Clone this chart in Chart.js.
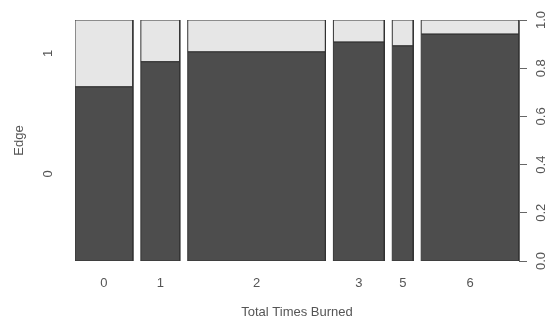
<!DOCTYPE html>
<html>
<head>
<meta charset="utf-8">
<script src="https://cdn.jsdelivr.net/npm/chart.js@4.4.1/dist/chart.umd.min.js"></script>
<style>
  html, body { margin: 0; padding: 0; background: #fff; }
  #wrap { width: 548px; height: 323px; }
</style>
</head>
<body>
<div id="wrap"><canvas id="spineChart" width="548" height="323"></canvas></div>
<script>
// spineplot: Edge by Total Times Burned
const categories = ["0", "1", "2", "3", "5", "6"];
const counts = [58, 39, 138, 51, 21, 98];            // bar widths (relative)
const shareZero = [0.723, 0.827, 0.868, 0.909, 0.893, 0.942]; // Edge = 0 share
const rightTicks = [0, 0.2, 0.4, 0.6, 0.8, 1.0];
const edgeLevels = ["0", "1"];

const gap = 8;
const darkGrey = "#4d4d4d";
const lightGrey = "#e6e6e6";
const textColor = "#555555";
const font = { family: "'Liberation Sans', Arial, sans-serif", size: 13 };

// left/right edges of each bar on the x scale
const edges = [];
let pos = 0;
counts.forEach((c) => {
  edges.push([pos, pos + c]);
  pos += c + gap;
});
const total = pos - gap;
const centers = edges.map((e) => (e[0] + e[1]) / 2);

const datasets = [];
edges.forEach(([x0, x1], i) => {
  const p = shareZero[i];
  datasets.push({
    data: [{ x: x0, y: 1 }, { x: x1, y: 1 }],
    fill: "origin",
    backgroundColor: lightGrey,
    borderWidth: 0,
    pointRadius: 0,
    order: 3,
  });
  datasets.push({
    data: [{ x: x0, y: p }, { x: x1, y: p }],
    fill: "origin",
    backgroundColor: darkGrey,
    borderColor: "#222222",
    borderWidth: 1,
    pointRadius: 0,
    order: 2,
  });
  datasets.push({
    data: [
      { x: x0, y: 0 }, { x: x0, y: 1 }, { x: x1, y: 1 },
      { x: x1, y: 0 }, { x: x0, y: 0 },
    ],
    fill: false,
    borderColor: "#333333",
    borderWidth: 1,
    pointRadius: 0,
    order: 1,
  });
});

const ctx = document.getElementById("spineChart").getContext("2d");

const chart = new Chart(ctx, {
  type: "line",
  data: { datasets: datasets },
  options: {
    responsive: false,
    animation: false,
    layout: {
      padding: { left: 0, right: 0, top: 20, bottom: 0 },
    },
    plugins: {
      legend: { display: false },
      tooltip: { enabled: false },
    },
    elements: { line: { tension: 0 } },
    scales: {
      x: {
        type: "linear",
        min: 0,
        max: total,
        grid: { display: false, drawTicks: false },
        border: { display: false },
        afterBuildTicks: (axis) => {
          axis.ticks = centers.map((v) => ({ value: v }));
        },
        afterFit: (axis) => {
          axis.height = 62;
          axis.paddingLeft = 0;
          axis.paddingRight = 0;
        },
        ticks: {
          autoSkip: false,
          maxRotation: 0,
          padding: 15,
          color: textColor,
          font: font,
          callback: (value, index) => categories[index],
        },
        title: {
          display: true,
          text: "Total Times Burned",
          color: textColor,
          font: font,
          padding: { top: 0, bottom: 3 },
        },
      },
      y: {
        type: "linear",
        position: "right",
        min: 0,
        max: 1,
        afterBuildTicks: (axis) => {
          axis.ticks = rightTicks.map((v) => ({ value: v }));
        },
        afterFit: (axis) => {
          axis.width = 29;
          axis.paddingTop = 0;
          axis.paddingBottom = 0;
        },
        grid: {
          display: true,
          drawOnChartArea: false,
          drawTicks: true,
          tickLength: 8,
          color: "#666666",
        },
        border: { display: true, color: "#666666" },
        ticks: {
          minRotation: 90,
          maxRotation: 90,
          crossAlign: "center",
          padding: 5,
          color: textColor,
          font: font,
          callback: (value) => Number(value).toFixed(1),
        },
      },
      yl: {
        type: "linear",
        position: "left",
        min: 0,
        max: 1,
        grid: { display: false },
        border: { display: false },
        afterBuildTicks: (axis) => {
          const p = shareZero[0];
          axis.ticks = [{ value: p / 2 }, { value: (p + 1) / 2 }];
        },
        afterFit: (axis) => {
          axis.width = 75;
          axis.paddingTop = 0;
          axis.paddingBottom = 0;
        },
        ticks: {
          minRotation: 90,
          maxRotation: 90,
          crossAlign: "center",
          padding: 15,
          color: textColor,
          font: font,
          callback: (value, index) => edgeLevels[index],
        },
        title: {
          display: true,
          text: "Edge",
          color: textColor,
          font: font,
          padding: { top: 12, bottom: 0 },
        },
      },
    },
  },
});
</script>
</body>
</html>
